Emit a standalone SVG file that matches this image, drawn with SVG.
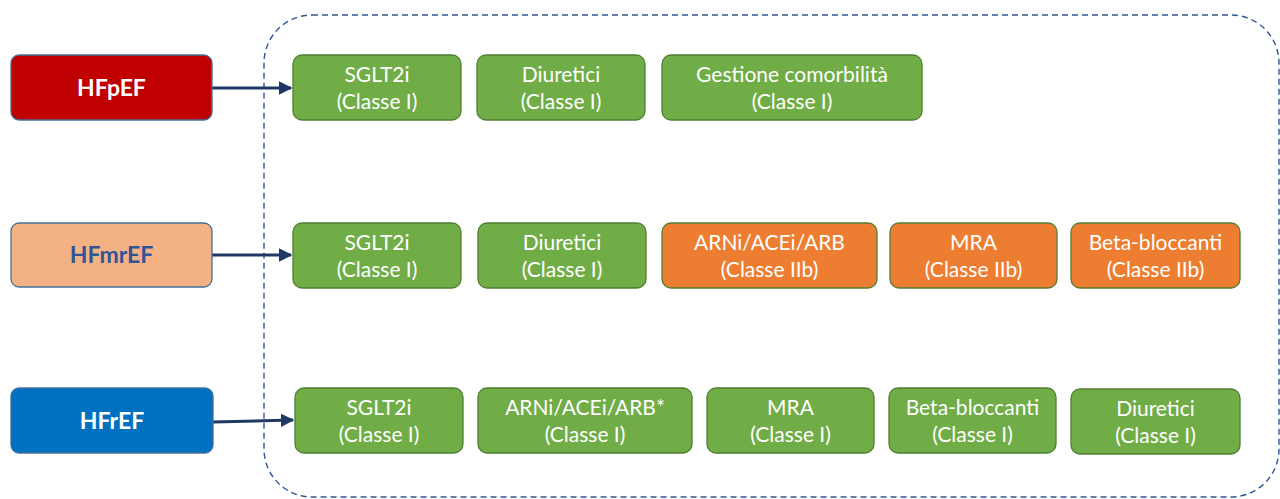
<svg xmlns="http://www.w3.org/2000/svg" width="1280" height="499" viewBox="0 0 1280 499">
<style>
.lbl{font-family:Lato,"Open Sans","Liberation Sans",sans-serif;font-size:21px;fill:#ffffff;text-anchor:middle}
.head{font-family:Lato,"Open Sans","Liberation Sans",sans-serif;font-size:23px;font-weight:bold;text-anchor:middle}
.g{fill:#70AD47;stroke:#507E32;stroke-width:1.3}
.o{fill:#ED7D31;stroke:#507E32;stroke-width:1.3}
.cat{stroke:#41719C;stroke-width:1.3}
.conn{stroke:#203864;stroke-width:3;fill:none}
</style>
<defs>
<marker id="ah" viewBox="0 0 10 10" refX="9" refY="5" markerWidth="4.5" markerHeight="4.5" orient="auto" markerUnits="strokeWidth">
<path d="M0,0 L10,5 L0,10 z" fill="#203864"/>
</marker>
</defs>
<rect id="frame" x="264" y="15" width="1015" height="482" rx="48" ry="48" fill="none" stroke="#2F5597" stroke-width="1.4" stroke-dasharray="6 4"/>
<g id="connectors">
<line class="conn" x1="212" y1="88" x2="291" y2="88" marker-end="url(#ah)"/>
<line class="conn" x1="212" y1="255" x2="291" y2="255" marker-end="url(#ah)"/>
<line class="conn" x1="213" y1="422" x2="293" y2="420" marker-end="url(#ah)"/>
</g>
<g id="hfpef"><rect class="cat" x="11" y="55" width="201" height="65" rx="8" fill="#C00000"/><text class="head" x="111.5" y="96" fill="#ffffff">HFpEF</text></g>
<g id="hfmref"><rect class="cat" x="11" y="223" width="201" height="64" rx="8" fill="#F4B183"/><text class="head" x="111.5" y="263" fill="#2F5597">HFmrEF</text></g>
<g id="hfref"><rect class="cat" x="11" y="388" width="202" height="65" rx="8" fill="#0070C0"/><text class="head" x="112" y="429" fill="#ffffff">HFrEF</text></g>

<g id="p1"><rect class="g" x="293" y="55" width="168" height="65" rx="9"/><text class="lbl" x="377" y="82">SGLT2i</text><text class="lbl" x="377" y="109">(Classe I)</text></g>
<g id="p2"><rect class="g" x="477" y="55" width="168" height="65" rx="9"/><text class="lbl" x="561" y="82">Diuretici</text><text class="lbl" x="561" y="109">(Classe I)</text></g>
<g id="p3"><rect class="g" x="662" y="55" width="260" height="65" rx="9"/><text class="lbl" x="792" y="82">Gestione comorbilità</text><text class="lbl" x="792" y="109">(Classe I)</text></g>

<g id="m1"><rect class="g" x="293" y="223" width="168" height="65" rx="9"/><text class="lbl" x="377" y="250">SGLT2i</text><text class="lbl" x="377" y="277">(Classe I)</text></g>
<g id="m2"><rect class="g" x="478" y="223" width="168" height="65" rx="9"/><text class="lbl" x="562" y="250">Diuretici</text><text class="lbl" x="562" y="277">(Classe I)</text></g>
<g id="m3"><rect class="o" x="662" y="223" width="215" height="65" rx="9"/><text class="lbl" x="769.5" y="250">ARNi/ACEi/ARB</text><text class="lbl" x="769.5" y="277">(Classe IIb)</text></g>
<g id="m4"><rect class="o" x="890" y="223" width="167" height="65" rx="9"/><text class="lbl" x="973.5" y="250">MRA</text><text class="lbl" x="973.5" y="277">(Classe IIb)</text></g>
<g id="m5"><rect class="o" x="1071" y="223" width="169" height="65" rx="9"/><text class="lbl" x="1155.5" y="250">Beta-bloccanti</text><text class="lbl" x="1155.5" y="277">(Classe IIb)</text></g>

<g id="r1"><rect class="g" x="295" y="388" width="168" height="65" rx="9"/><text class="lbl" x="379" y="415">SGLT2i</text><text class="lbl" x="379" y="442">(Classe I)</text></g>
<g id="r2"><rect class="g" x="478" y="388" width="214" height="65" rx="9"/><text class="lbl" x="585" y="415">ARNi/ACEi/ARB*</text><text class="lbl" x="585" y="442">(Classe I)</text></g>
<g id="r3"><rect class="g" x="707" y="388" width="167" height="65" rx="9"/><text class="lbl" x="790.5" y="415">MRA</text><text class="lbl" x="790.5" y="442">(Classe I)</text></g>
<g id="r4"><rect class="g" x="889" y="388" width="167" height="65" rx="9"/><text class="lbl" x="972.5" y="415">Beta-bloccanti</text><text class="lbl" x="972.5" y="442">(Classe I)</text></g>
<g id="r5"><rect class="g" x="1071" y="389" width="169" height="65" rx="9"/><text class="lbl" x="1155.5" y="416">Diuretici</text><text class="lbl" x="1155.5" y="443">(Classe I)</text></g>
</svg>
